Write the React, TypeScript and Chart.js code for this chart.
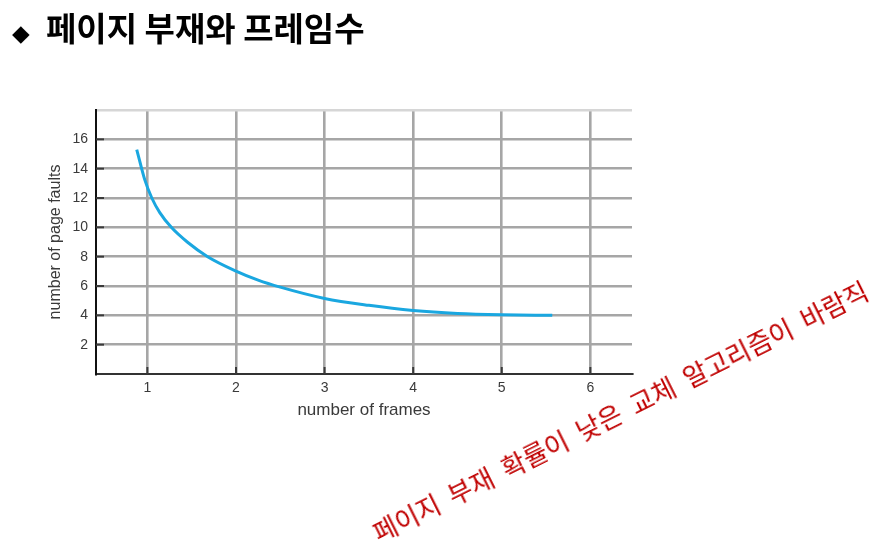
import React, { useEffect, useRef } from "react";
import { Chart, registerables } from "chart.js";

Chart.register(...registerables);

// Number of frames (x) and number of page faults (y)
const frames = [0.88, 0.97, 1.05, 1.14, 1.27, 1.45, 1.68, 2.0, 2.25, 2.5, 3.0, 3.5, 4.0, 4.5, 5.0, 5.57];
const pageFaults = [15.3, 13.25, 12.0, 11.0, 10.0, 9.0, 8.0, 7.02, 6.4, 5.92, 5.15, 4.68, 4.33, 4.13, 4.04, 4.0];

const xTickValues = [1, 2, 3, 4, 5, 6];
const yTickValues = [2, 4, 6, 8, 10, 12, 14, 16];

const titleText = "페이지 부재와 프레임수";
const noteText = "페이지 부재 확률이 낮은 교체 알고리즘이 바람직";
const xTitle = "number of frames";
const yTitle = "number of page faults";

const innerTicks = {
  id: "innerTicks",
  afterDraw(chart: any) {
    const { ctx, chartArea, scales } = chart;
    ctx.save();
    ctx.strokeStyle = "#3a3a3a";
    ctx.lineWidth = 2;
    xTickValues.forEach((v) => {
      const px = scales.x.getPixelForValue(v);
      ctx.beginPath();
      ctx.moveTo(px, chartArea.bottom);
      ctx.lineTo(px, chartArea.bottom - 7);
      ctx.stroke();
    });
    yTickValues.forEach((v) => {
      const py = scales.y.getPixelForValue(v);
      ctx.beginPath();
      ctx.moveTo(chartArea.left, py);
      ctx.lineTo(chartArea.left + 8, py);
      ctx.stroke();
    });
    ctx.restore();
  },
};

export default function App() {
  const canvasRef = useRef<HTMLCanvasElement | null>(null);

  useEffect(() => {
    if (!canvasRef.current) return;
    const fontFamily = "'Liberation Sans', Arial, sans-serif";
    const chart = new Chart(canvasRef.current, {
      type: "line",
      data: {
        datasets: [
          {
            data: frames.map((x, i) => ({ x, y: pageFaults[i] })),
            borderColor: "#1aa7e0",
            borderWidth: 3,
            pointRadius: 0,
            fill: false,
            cubicInterpolationMode: "monotone",
          },
        ],
      },
      options: {
        animation: false,
        responsive: false,
        devicePixelRatio: 1,
        layout: { padding: { left: 40, top: 110, right: 244, bottom: 133 } },
        plugins: { legend: { display: false }, tooltip: { enabled: false } },
        scales: {
          x: {
            type: "linear",
            min: 0.42,
            max: 6.47,
            afterBuildTicks: (s: any) => {
              s.ticks = xTickValues.map((value) => ({ value }));
            },
            afterFit: (s: any) => {
              s.height = 50;
            },
            grid: { color: "#a6a6a6", lineWidth: 2.6, drawTicks: false },
            border: { display: true, color: "#333333", width: 2 },
            ticks: {
              color: "#3a3a3a",
              font: { family: fontFamily, size: 14 },
              padding: 6,
              callback: (v: any) => String(v),
            },
            title: {
              display: true,
              text: xTitle,
              color: "#3a3a3a",
              font: { family: fontFamily, size: 17 },
              padding: { top: 0, bottom: 3 },
            },
          },
          y: {
            type: "linear",
            min: 0,
            max: 18,
            afterFit: (s: any) => {
              s.width = 56;
            },
            grid: {
              color: (c: any) =>
                c.tick && c.tick.value === 0 ? "rgba(0,0,0,0)" : c.tick && c.tick.value === 18 ? "#d6d6d6" : "#a6a6a6",
              lineWidth: 2.6,
              drawTicks: false,
            },
            border: { display: true, color: "#111111", width: 2 },
            ticks: {
              stepSize: 2,
              color: "#3a3a3a",
              font: { family: fontFamily, size: 14 },
              padding: 8,
              callback: (v: any) => (yTickValues.includes(Number(v)) ? String(v) : ""),
            },
            title: {
              display: true,
              text: yTitle,
              color: "#3a3a3a",
              font: { family: fontFamily, size: 16 },
              padding: { top: 6, bottom: 0 },
            },
          },
        },
      },
      plugins: [innerTicks],
    } as any);
    return () => chart.destroy();
  }, []);

  return (
    <div style={{ position: "absolute", left: 0, top: 0, width: 876, height: 557, background: "#fff", overflow: "hidden" }}>
      <canvas
        ref={canvasRef}
        width={876}
        height={557}
        style={{ position: "absolute", left: 0, top: 0, width: 876, height: 557 }}
      />
      <span
        style={{
          position: "absolute",
          left: 12,
          top: 22,
          fontFamily: "'DejaVu Sans', sans-serif",
          fontSize: 23,
          lineHeight: "23px",
          color: "#000",
        }}
      >
        ◆
      </span>
      <div
        style={{
          position: "absolute",
          left: 46,
          top: 11,
          fontFamily: "'Noto Sans CJK KR', sans-serif",
          fontWeight: 700,
          fontSize: 33,
          lineHeight: "33px",
          color: "#000",
          whiteSpace: "nowrap",
        }}
      >
        {titleText}
      </div>
      <div
        style={{
          position: "absolute",
          left: 380,
          top: 519,
          fontFamily: "'Noto Sans CJK KR', sans-serif",
          fontSize: 26,
          lineHeight: "26px",
          color: "#c00000",
          whiteSpace: "nowrap",
          wordSpacing: 6,
          transformOrigin: "0px 26px",
          transform: "rotate(-26.5deg)",
        }}
      >
        {noteText}
      </div>
    </div>
  );
}
